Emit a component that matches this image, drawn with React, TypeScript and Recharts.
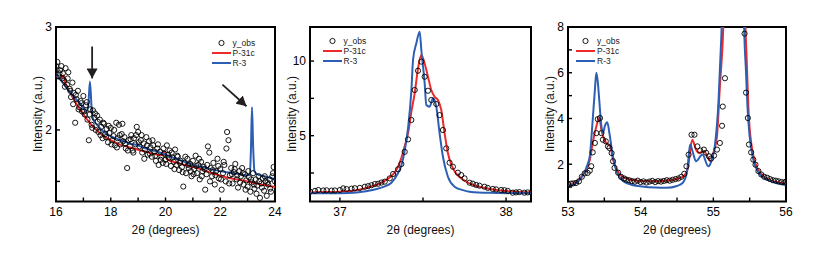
import React from 'react';
import { ComposedChart, Line, Scatter, XAxis, YAxis, ReferenceArea, ReferenceLine } from 'recharts';

type Pt = [number, number];

// ---- panel 1: 16-24 deg ----
const obs1: Pt[] = [
  [16.0, 2.62], [16.05, 2.66], [16.1, 2.52], [16.15, 2.58], [16.2, 2.62], [16.25, 2.55], [16.3, 2.48], [16.35, 2.6],
  [16.4, 2.44], [16.45, 2.56], [16.5, 2.4], [16.55, 2.32], [16.6, 2.46], [16.65, 2.36], [16.7, 2.07], [16.75, 2.3],
  [16.8, 2.38], [16.85, 2.22], [16.9, 2.28], [16.95, 2.18], [17.0, 2.33], [17.05, 2.15], [17.1, 2.24], [17.15, 2.1],
  [17.2, 1.9], [17.25, 2.2], [17.3, 2.05], [17.35, 2.19], [17.4, 2.12], [17.45, 2.0], [17.5, 2.14], [17.55, 1.98],
  [17.6, 2.1], [17.65, 2.03], [17.7, 1.92], [17.75, 2.06], [17.8, 1.96], [17.85, 2.01], [17.9, 1.88], [17.95, 1.97],
  [18.0, 2.02], [18.05, 1.9], [18.1, 1.94], [18.15, 1.85], [18.2, 2.07], [18.25, 1.92], [18.3, 2.05], [18.35, 1.86],
  [18.4, 1.96], [18.45, 1.89], [18.5, 1.93], [18.55, 1.82], [18.6, 1.63], [18.65, 1.9], [18.7, 1.84], [18.75, 1.95],
  [18.8, 1.8], [18.85, 1.92], [18.9, 1.86], [18.95, 2.03], [19.0, 1.98], [19.05, 1.84], [19.1, 1.9], [19.15, 1.78],
  [19.2, 1.87], [19.25, 1.81], [19.3, 1.93], [19.35, 1.76], [19.4, 1.89], [19.45, 1.83], [19.5, 1.74], [19.55, 1.85],
  [19.6, 1.79], [19.65, 1.7], [19.7, 1.82], [19.75, 1.66], [19.8, 1.79], [19.85, 1.74], [19.9, 1.68], [19.95, 1.77],
  [20.0, 1.71], [20.05, 1.85], [20.1, 1.76], [20.15, 1.8], [20.2, 1.65], [20.25, 1.73], [20.3, 1.69], [20.35, 1.81],
  [20.4, 1.66], [20.45, 1.74], [20.5, 1.61], [20.55, 1.7], [20.6, 1.64], [20.65, 1.45], [20.7, 1.68], [20.75, 1.58],
  [20.8, 1.72], [20.85, 1.63], [20.9, 1.67], [20.95, 1.55], [21.0, 1.7], [21.05, 1.62], [21.1, 1.75], [21.15, 1.58],
  [21.2, 1.66], [21.25, 1.52], [21.3, 1.69], [21.35, 1.6], [21.4, 1.64], [21.45, 1.42], [21.5, 1.57], [21.55, 1.84],
  [21.6, 1.78], [21.65, 1.63], [21.7, 1.55], [21.75, 1.68], [21.8, 1.47], [21.85, 1.6], [21.9, 1.72], [21.95, 1.53],
  [22.0, 1.62], [22.05, 1.42], [22.1, 1.58], [22.15, 1.66], [22.2, 1.5], [22.25, 1.98], [22.3, 1.9], [22.35, 1.56],
  [22.4, 1.63], [22.45, 1.48], [22.5, 1.59], [22.55, 1.67], [22.6, 1.52], [22.65, 1.44], [22.7, 1.6], [22.75, 1.55],
  [22.8, 1.63], [22.85, 1.47], [22.9, 1.57], [22.95, 1.51], [23.0, 1.45], [23.05, 1.54], [23.1, 1.4], [23.15, 1.49],
  [23.2, 1.58], [23.25, 1.43], [23.3, 1.52], [23.35, 1.46], [23.4, 1.55], [23.45, 1.34], [23.5, 1.48], [23.55, 1.53],
  [23.6, 1.41], [23.65, 1.5], [23.7, 1.36], [23.75, 1.47], [23.8, 1.52], [23.85, 1.4], [23.9, 1.55], [23.95, 1.64],
  [24.0, 1.5],
  [16.025, 2.58], [16.125, 2.55], [16.225, 2.5], [16.325, 2.42], [16.425, 2.5], [16.525, 2.38], [16.625, 2.25],
  [16.725, 2.34], [16.825, 2.2], [16.925, 2.26], [17.025, 2.18], [17.125, 2.27], [17.225, 2.15], [17.325, 2.02],
  [17.425, 2.16], [17.525, 2.08], [17.625, 1.95], [17.725, 2.07], [17.825, 1.93], [17.925, 2.04], [18.025, 1.86],
  [18.125, 2.0], [18.225, 1.83], [18.325, 1.95], [18.425, 2.06], [18.525, 1.87], [18.625, 1.8], [18.725, 1.91],
  [18.825, 1.78], [18.925, 1.95], [19.025, 1.88], [19.125, 1.95], [19.225, 1.72], [19.325, 1.85], [19.425, 1.77],
  [19.525, 1.9], [19.625, 1.75], [19.725, 1.86], [19.825, 1.71], [19.925, 1.82], [20.025, 1.67], [20.125, 1.73],
  [20.225, 1.78], [20.325, 1.62], [20.425, 1.75], [20.525, 1.68], [20.625, 1.59], [20.725, 1.74], [20.825, 1.66],
  [20.925, 1.6], [21.025, 1.57], [21.125, 1.65], [21.225, 1.72], [21.325, 1.55], [21.425, 1.62], [21.525, 1.66],
  [21.625, 1.5], [21.725, 1.61], [21.825, 1.56], [21.925, 1.65], [22.025, 1.52], [22.125, 1.69], [22.225, 1.82],
  [22.325, 1.48], [22.425, 1.57], [22.525, 1.62], [22.625, 1.56], [22.725, 1.49], [22.825, 1.58], [22.925, 1.42],
  [23.025, 1.6], [23.125, 1.52], [23.225, 1.47], [23.325, 1.38], [23.425, 1.5], [23.525, 1.44], [23.625, 1.55],
  [23.725, 1.49], [23.825, 1.43], [23.925, 1.58],
];

const p31c1: Pt[] = [
  [16.0, 2.52], [16.2, 2.5], [16.27, 2.53], [16.35, 2.45], [16.5, 2.37], [16.66, 2.29], [16.9, 2.19], [17.14, 2.1],
  [17.4, 2.02], [17.75, 1.94], [18.0, 1.9], [18.36, 1.855], [18.7, 1.83], [18.97, 1.81], [19.4, 1.78], [19.82, 1.755],
  [19.88, 1.76], [19.93, 1.79], [19.97, 1.79], [20.02, 1.73], [20.1, 1.71], [20.5, 1.675], [21.16, 1.63], [21.7, 1.58],
  [22.37, 1.53], [23.0, 1.5], [23.5, 1.47], [24.0, 1.445],
];

const r3_1: Pt[] = [
  [16.0, 2.55], [16.3, 2.44], [16.66, 2.32], [17.0, 2.22], [17.12, 2.18], [17.18, 2.24], [17.24, 2.47], [17.3, 2.22],
  [17.36, 2.1], [17.5, 2.05], [17.75, 1.98], [18.0, 1.94], [18.36, 1.9], [18.7, 1.87], [18.97, 1.85], [19.4, 1.81],
  [19.82, 1.78], [20.2, 1.74], [20.6, 1.7], [21.0, 1.66], [21.5, 1.63], [22.0, 1.6], [22.5, 1.58], [23.0, 1.56],
  [23.08, 1.57], [23.12, 1.8], [23.16, 2.22], [23.2, 1.85], [23.25, 1.6], [23.35, 1.57], [23.6, 1.55], [24.0, 1.52],
];

// ---- panel 2: 36.8-38.15 deg ----
const obs2: Pt[] = [
  [36.82, 1.25], [36.85, 1.3], [36.87, 1.36], [36.9, 1.33], [36.92, 1.34], [36.95, 1.32], [36.97, 1.33], [37.0, 1.36],
  [37.02, 1.47], [37.04, 1.42], [37.07, 1.45], [37.09, 1.48], [37.12, 1.5], [37.15, 1.58], [37.17, 1.62], [37.19, 1.68],
  [37.21, 1.76], [37.23, 1.78], [37.25, 1.86], [37.27, 1.92], [37.3, 2.14], [37.32, 2.43], [37.35, 2.75], [37.37, 3.1],
  [37.39, 3.92], [37.41, 4.75], [37.43, 6.05], [37.45, 8.06], [37.47, 9.35], [37.49, 9.96], [37.51, 8.95], [37.53, 8.01],
  [37.55, 7.39], [37.58, 7.12], [37.6, 6.38], [37.62, 5.38], [37.64, 4.15], [37.66, 3.19], [37.68, 2.92], [37.71, 2.52],
  [37.73, 2.36], [37.75, 2.14], [37.78, 1.85], [37.8, 1.78], [37.82, 1.7], [37.84, 1.65], [37.87, 1.58], [37.89, 1.5],
  [37.92, 1.43], [37.94, 1.4], [37.97, 1.36], [37.99, 1.35], [38.01, 1.3], [38.04, 1.18], [38.06, 1.2], [38.08, 1.22],
  [38.11, 1.18], [38.13, 1.2], [38.155, 1.18],
];

const p31c2: Pt[] = [
  [36.82, 1.2], [36.9, 1.22], [37.0, 1.25], [37.09, 1.33], [37.19, 1.6], [37.25, 1.85], [37.31, 2.3], [37.34, 2.7],
  [37.37, 3.5], [37.39, 4.3], [37.41, 5.16], [37.43, 6.6], [37.45, 7.84], [37.47, 9.5], [37.49, 10.4], [37.51, 9.84],
  [37.53, 8.95], [37.55, 8.06], [37.57, 7.61], [37.59, 7.39], [37.61, 6.72], [37.63, 5.16], [37.65, 3.82], [37.68, 2.81],
  [37.73, 2.14], [37.78, 1.8], [37.82, 1.63], [37.88, 1.48], [37.94, 1.36], [38.0, 1.3], [38.08, 1.23], [38.155, 1.2],
];

const r3_2: Pt[] = [
  [36.82, 1.14], [37.0, 1.15], [37.1, 1.2], [37.21, 1.4], [37.27, 1.6], [37.31, 1.85], [37.35, 2.5], [37.37, 3.0],
  [37.39, 4.0], [37.41, 5.5], [37.43, 8.0], [37.44, 10.07], [37.46, 11.19], [37.48, 11.97], [37.49, 10.74], [37.51, 8.51],
  [37.52, 7.05], [37.54, 6.94], [37.56, 7.5], [37.58, 6.94], [37.6, 5.16], [37.62, 3.59], [37.65, 2.25], [37.69, 1.58],
  [37.74, 1.35], [37.78, 1.25], [37.9, 1.17], [38.155, 1.14],
];

// ---- panel 3: 53-56 deg ----
const obs3: Pt[] = [
  [53.0, 1.12], [53.04, 1.15], [53.07, 1.16], [53.11, 1.18], [53.15, 1.25], [53.19, 1.45], [53.23, 1.6], [53.27, 1.62],
  [53.3, 1.72], [53.32, 1.91], [53.34, 2.52], [53.37, 2.93], [53.39, 3.36], [53.41, 3.97], [53.44, 4.02], [53.46, 3.36],
  [53.48, 3.07], [53.52, 3.0], [53.55, 2.78], [53.57, 2.71], [53.6, 2.49], [53.62, 2.13], [53.64, 1.84], [53.69, 1.63],
  [53.73, 1.45], [53.77, 1.38], [53.8, 1.33], [53.84, 1.3], [53.88, 1.26], [53.92, 1.24], [53.96, 1.28], [54.0, 1.22],
  [54.04, 1.25], [54.08, 1.2], [54.12, 1.24], [54.16, 1.27], [54.2, 1.22], [54.24, 1.26], [54.28, 1.24], [54.32, 1.27],
  [54.36, 1.3], [54.4, 1.28], [54.44, 1.32], [54.48, 1.35], [54.52, 1.38], [54.56, 1.45], [54.6, 1.58], [54.63, 1.91],
  [54.66, 2.42], [54.7, 3.29], [54.74, 3.29], [54.78, 2.78], [54.82, 2.6], [54.87, 2.64], [54.9, 2.5], [54.94, 2.35],
  [54.97, 2.25], [55.01, 2.38], [55.05, 2.64], [55.09, 2.93], [55.12, 3.68], [55.13, 4.52], [55.16, 5.76], [55.43, 7.71],
  [55.45, 5.13], [55.475, 4.02], [55.49, 2.86], [55.52, 2.52], [55.55, 2.2], [55.58, 1.98], [55.62, 1.7], [55.66, 1.55],
  [55.7, 1.45], [55.74, 1.41], [55.78, 1.35], [55.82, 1.3], [55.86, 1.28], [55.9, 1.25], [55.94, 1.22], [55.98, 1.2],
  [56.0, 1.24],
];

const p31c3: Pt[] = [
  [53.0, 1.1], [53.1, 1.2], [53.21, 1.55], [53.27, 1.9], [53.3, 2.2], [53.34, 2.93], [53.39, 3.65], [53.43, 4.02],
  [53.46, 3.5], [53.5, 3.07], [53.55, 2.86], [53.58, 2.8], [53.62, 2.2], [53.67, 1.77], [53.75, 1.45], [53.85, 1.33],
  [54.0, 1.27], [54.22, 1.26], [54.4, 1.3], [54.58, 1.45], [54.65, 1.85], [54.71, 3.07], [54.76, 2.65], [54.8, 2.49],
  [54.87, 2.57], [54.96, 2.13], [55.01, 2.6], [55.05, 3.22], [55.09, 5.39], [55.13, 7.42], [55.16, 10.0], [55.22, 18.0],
  [55.3, 30.0], [55.36, 30.0], [55.41, 14.0], [55.43, 9.5], [55.46, 6.5], [55.49, 4.0], [55.55, 2.4], [55.62, 1.75],
  [55.7, 1.45], [55.8, 1.28], [55.9, 1.2], [56.0, 1.15],
];

const r3_3: Pt[] = [
  [53.0, 1.05], [53.1, 1.15], [53.21, 1.55], [53.27, 2.0], [53.3, 2.35], [53.34, 3.94], [53.37, 5.25], [53.39, 6.0],
  [53.41, 5.6], [53.43, 4.81], [53.46, 3.65], [53.48, 3.36], [53.51, 3.7], [53.54, 3.84], [53.57, 3.36], [53.61, 2.49],
  [53.66, 1.77], [53.76, 1.26], [53.9, 1.08], [53.99, 1.04], [54.2, 0.98], [54.36, 0.97], [54.5, 1.05], [54.58, 1.19],
  [54.64, 1.7], [54.68, 2.86], [54.72, 2.5], [54.76, 2.13], [54.85, 2.42], [54.93, 1.91], [54.98, 2.2], [55.02, 2.78],
  [55.07, 4.67], [55.11, 7.57], [55.14, 10.5], [55.2, 18.0], [55.28, 30.0], [55.35, 30.0], [55.4, 13.0], [55.42, 8.5],
  [55.45, 6.0], [55.47, 4.5], [55.5, 3.2], [55.55, 2.2], [55.62, 1.65], [55.7, 1.4], [55.8, 1.25], [55.94, 1.12],
  [56.0, 1.1],
];

const ticks1x = [16, 17, 18, 19, 20, 21, 22, 23, 24];
const labels1x = [16, 18, 20, 22, 24];
const ticks1y = [1.5, 2, 2.5, 3];
const labels1y = [2, 3];
const ticks2x = [37, 37.5, 38];
const labels2x = [37, 38];
const ticks2y = [2.5, 5, 7.5, 10];
const labels2y = [5, 10];
const ticks3x = [53, 53.5, 54, 54.5, 55, 55.5, 56];
const labels3x = [53, 54, 55, 56];
const ticks3y = [1, 2, 3, 4, 5, 6, 7, 8];
const labels3y = [2, 4, 6, 8];

const RED = '#ee2a2a';
const BLUE = '#2c5fb4';
const FONT = '"Liberation Sans", Arial, sans-serif';
const TOP = 27;
const BOTTOM = 201.5;
const TICK = 4;

const toXY = (arr: Pt[]) => arr.map(([x, y]) => ({ x, y }));

const Ring = (props: any) => (
  <circle cx={props.cx} cy={props.cy} r={2.6} fill="none" stroke="#000" strokeWidth={0.9} />
);

const LegendBox = ({ x, y }: { x: number; y: number }) => {
  const rows = [
    { name: 'y_obs', kind: 'dot', color: '#000' },
    { name: 'P-31c', kind: 'line', color: RED },
    { name: 'R-3', kind: 'line', color: BLUE },
  ];
  return (
    <div style={{ position: 'absolute', left: x, top: y, fontFamily: FONT, fontSize: 8.5, color: '#222' }}>
      {rows.map((r) => (
        <div key={r.name} style={{ display: 'flex', alignItems: 'center', height: 10.4 }}>
          <svg width={19} height={10} style={{ display: 'block' }}>
            {r.kind === 'dot' ? (
              <circle cx={9.5} cy={5} r={2.6} fill="none" stroke="#000" strokeWidth={0.9} />
            ) : (
              <line x1={0} y1={5} x2={19} y2={5} stroke={r.color} strokeWidth={2} />
            )}
          </svg>
          <span style={{ marginLeft: 2, lineHeight: '10px' }}>{r.name}</span>
        </div>
      ))}
    </div>
  );
};

interface Arrow {
  from: [number, number];
  to: [number, number];
}

interface PanelProps {
  id: string;
  left: number;
  width: number;
  yAxisWidth: number;
  marginRight: number;
  xDomain: [number, number];
  yDomain: [number, number];
  xTicks: number[];
  xLabels: number[];
  yTicks: number[];
  yLabels: number[];
  obs: Pt[];
  p31c: Pt[];
  r3: Pt[];
  legend: [number, number];
  titleX: number;
  arrows?: Arrow[];
}

const Panel = (p: PanelProps) => {
  const localLeft = p.yAxisWidth;
  const localRight = p.width - p.marginRight;
  const txt = { fill: '#000', fontSize: 12, fontFamily: FONT };

  const BottomTick = (t: any) => (
    <g>
      <line x1={t.x} x2={t.x} y1={BOTTOM} y2={BOTTOM - TICK} stroke="#000" strokeWidth={1.4} />
      {p.xLabels.includes(t.payload.value) && (
        <text x={t.x} y={BOTTOM + 14.5} textAnchor="middle" {...txt}>{t.payload.value}</text>
      )}
    </g>
  );
  const TopTick = (t: any) => (
    <line x1={t.x} x2={t.x} y1={TOP} y2={TOP + TICK} stroke="#000" strokeWidth={1.4} />
  );
  const LeftTick = (t: any) => (
    <g>
      <line x1={localLeft} x2={localLeft + TICK} y1={t.y} y2={t.y} stroke="#000" strokeWidth={1.4} />
      {p.yLabels.includes(t.payload.value) && (
        <text x={localLeft - 4} y={t.y + 4.3} textAnchor="end" {...txt}>{t.payload.value}</text>
      )}
    </g>
  );
  const RightTick = (t: any) => (
    <line x1={localRight} x2={localRight - TICK} y1={t.y} y2={t.y} stroke="#000" strokeWidth={1.4} />
  );

  const plotLeft = p.left + p.yAxisWidth;
  const plotRight = p.left + p.width - p.marginRight;
  const cx = (plotLeft + plotRight) / 2;
  const cy = (TOP + BOTTOM) / 2;

  return (
    <>
      <div style={{ position: 'absolute', left: p.left, top: 0 }}>
        <ComposedChart width={p.width} height={270} margin={{ top: TOP, right: p.marginRight, bottom: 0, left: 0 }}>
          <defs>
            <marker id={`head-${p.id}`} viewBox="0 0 10 10" refX={10} refY={5} markerWidth={10} markerHeight={11}
              markerUnits="userSpaceOnUse" orient="auto" preserveAspectRatio="none">
              <path d="M0,0 L10,5 L0,10 z" fill="#231f20" />
            </marker>
          </defs>
          <XAxis type="number" dataKey="x" domain={p.xDomain} ticks={p.xTicks} allowDataOverflow interval={0}
            axisLine={false} tickLine={false} tick={BottomTick} height={270 - BOTTOM} />
          <XAxis xAxisId="t" orientation="top" type="number" domain={p.xDomain} ticks={p.xTicks} allowDataOverflow
            interval={0} axisLine={false} tickLine={false} tick={TopTick} height={0} />
          <YAxis type="number" dataKey="y" domain={p.yDomain} ticks={p.yTicks} allowDataOverflow interval={0}
            axisLine={false} tickLine={false} tick={LeftTick} width={p.yAxisWidth} />
          <YAxis yAxisId="r" orientation="right" type="number" domain={p.yDomain} ticks={p.yTicks} allowDataOverflow
            interval={0} axisLine={false} tickLine={false} tick={RightTick} width={0} />
          <Scatter data={toXY(p.obs)} shape={Ring} isAnimationActive={false} />
          <Line data={toXY(p.p31c)} dataKey="y" type="monotone" stroke={RED} strokeWidth={2} dot={false}
            isAnimationActive={false} />
          <Line data={toXY(p.r3)} dataKey="y" type="monotone" stroke={BLUE} strokeWidth={2} dot={false}
            isAnimationActive={false} />
          {(p.arrows || []).map((a, i) => (
            <ReferenceLine key={i} segment={[{ x: a.from[0], y: a.from[1] }, { x: a.to[0], y: a.to[1] }]}
              ifOverflow="visible"
              shape={(s: any) => (
                <line x1={s.x1} y1={s.y1} x2={s.x2} y2={s.y2} stroke="#231f20" strokeWidth={1.8}
                  markerEnd={`url(#head-${p.id})`} />
              )} />
          ))}
          <ReferenceArea x1={p.xDomain[0]} x2={p.xDomain[1]} y1={p.yDomain[0]} y2={p.yDomain[1]} ifOverflow="visible"
            fill="none" fillOpacity={0} stroke="#000" strokeWidth={2} />
        </ComposedChart>
      </div>
      <LegendBox x={p.legend[0]} y={p.legend[1]} />
      <div style={{ position: 'absolute', left: cx - 60, top: 223, width: 120, textAlign: 'center', fontFamily: FONT,
        fontSize: 12, lineHeight: '14px', color: '#111' }}>
        2θ (degrees)
      </div>
      <div style={{ position: 'absolute', left: p.titleX - 60, top: cy - 7, width: 120, textAlign: 'center',
        fontFamily: FONT, fontSize: 12, lineHeight: '14px', color: '#111', transform: 'rotate(-90deg)',
        transformOrigin: '50% 50%' }}>
        Intensity (a.u.)
      </div>
    </>
  );
};

export default function App() {
  return (
    <div style={{ position: 'absolute', left: 0, top: 0, width: 830, height: 270, background: '#fff' }}>
      <Panel id="a" left={0} width={290} yAxisWidth={56} marginRight={15} xDomain={[16, 24]} yDomain={[1.305, 3]}
        xTicks={ticks1x} xLabels={labels1x} yTicks={ticks1y} yLabels={labels1y} obs={obs1} p31c={p31c1} r3={r3_1}
        legend={[211.5, 37.5]} titleX={38.3}
        arrows={[{ from: [17.32, 2.81], to: [17.32, 2.5] }, { from: [22.08, 2.44], to: [22.96, 2.23] }]} />
      <Panel id="b" left={270} width={280} yAxisWidth={40} marginRight={19} xDomain={[36.82, 38.15]} yDomain={[0.59, 12.28]}
        xTicks={ticks2x} xLabels={labels2x} yTicks={ticks2y} yLabels={labels2y} obs={obs2} p31c={p31c2} r3={r3_2}
        legend={[322.5, 35.5]} titleX={291.7} />
      <Panel id="c" left={540} width={290} yAxisWidth={28} marginRight={44} xDomain={[53, 56]} yDomain={[0.37, 8]}
        xTicks={ticks3x} xLabels={labels3x} yTicks={ticks3y} yLabels={labels3y} obs={obs3} p31c={p31c3} r3={r3_3}
        legend={[576, 35.5]} titleX={550} />
    </div>
  );
}
